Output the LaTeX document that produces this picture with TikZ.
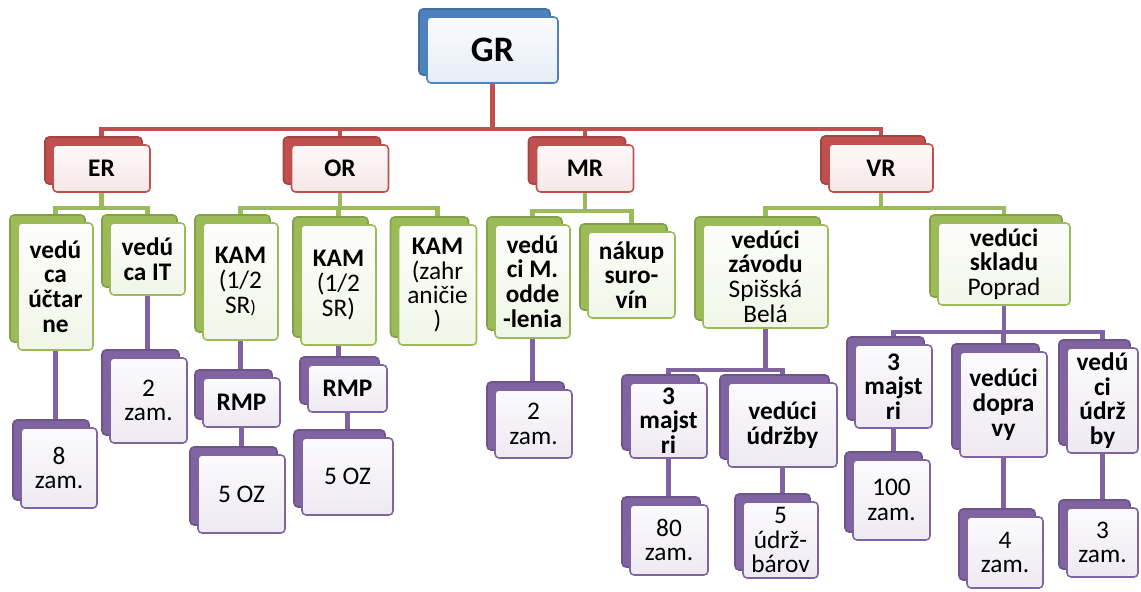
\documentclass[tikz,border=0pt]{standalone}
\usepackage{fontspec}
\setmainfont{Carlito}
\usetikzlibrary{shadows,backgrounds}

\definecolor{cblue}{HTML}{4F81BD}
\definecolor{cred}{HTML}{C0504D}
\definecolor{cgreen}{HTML}{9BBB59}
\definecolor{cviolet}{HTML}{8064A2}

\tikzset{
  card/.style={draw=#1, line width=1.1pt, rounded corners=0.1cm, inner sep=0pt, align=center,
    top color=#1!3!white, bottom color=#1!14!white,
    font=\fontsize{18}{17.6}\selectfont\bfseries,
    copy shadow={shadow xshift=-0.2cm, shadow yshift=0.2cm, draw=#1!85!black, fill=#1, line width=1.1pt}},
  num/.style={font=\fontsize{18}{17.6}\selectfont},
  sz/.style 2 args={minimum width=#1*0.025cm, minimum height=#2*0.025cm},
  link/.style={draw=#1, line width=3pt}
}

\begin{document}
\begin{tikzpicture}[x=0.025cm, y=-0.025cm]
  \useasboundingbox (0,0) rectangle (1141,591);

  % top
  \node[card=cblue, sz={131}{66}, font=\fontsize{25.5}{28}\selectfont\bfseries] (GR) at (492.5,50) {GR};

  % departments
  \node[card=cred, sz={97}{47}] (ER) at (101.5,168.5) {ER};
  \node[card=cred, sz={97}{47}] (OR) at (340,168.5) {OR};
  \node[card=cred, sz={97}{47}] (MR) at (585,168.5) {MR};
  \node[card=cred, sz={104}{48}] (VR) at (881,168) {VR};

  % heads
  \node[card=cgreen, sz={75}{127}] (uct) at (55.5,286.5) {vedú\\ca\\účtar\\ne};
  \node[card=cgreen, sz={75}{72}] (it) at (147.5,259) {vedú\\ca IT};
  \node[card=cgreen, sz={75}{117}] (kam1) at (240.5,281.5) {KAM\\\mdseries(1/2\\\mdseries SR{\fontsize{13}{13}\selectfont)}};
  \node[card=cgreen, sz={75}{120}] (kam2) at (338.5,285) {KAM\\\mdseries(1/2\\\mdseries SR)};
  \node[card=cgreen, sz={78}{120}] (kam3) at (437.5,285) {KAM\\\mdseries(zahr\\\mdseries aničie\\\mdseries)};
  \node[card=cgreen, sz={75}{113}] (vm) at (532.5,281.5) {vedú\\ci M.\\odde\\-lenia};
  \node[card=cgreen, sz={87}{86}] (nak) at (631.5,275) {nákup\\suro-\\vín};
  \node[card=cgreen, sz={125}{103}] (zav) at (765.5,276.5) {vedúci\\závodu\\\mdseries Spišská\\\mdseries Belá};
  \node[card=cgreen, sz={132}{82}] (skl) at (1004,264) {vedúci\\skladu\\\mdseries Poprad};

  % staff
  \node[card=cviolet, num, sz={76}{80}] (z8) at (59,468) {8\\zam.};
  \node[card=cviolet, num, sz={77}{85}] (z2a) at (148.5,400.5) {2\\zam.};
  \node[card=cviolet, sz={77}{49}] (rmp1) at (241.5,402.5) {RMP};
  \node[card=cviolet, num, sz={87}{78}] (oz1) at (241.5,494) {5 OZ};
  \node[card=cviolet, sz={79}{47}] (rmp2) at (347.5,388.5) {RMP};
  \node[card=cviolet, num, sz={91}{77}] (oz2) at (347.5,476.5) {5 OZ};
  \node[card=cviolet, num, sz={77}{68}] (z2b) at (533.5,424) {2\\zam.};
  \node[card=cviolet, sz={77}{75}] (maj1) at (668.5,420.5) {3\\majst\\ri};
  \node[card=cviolet, sz={109}{84}] (udr1) at (782.5,425) {vedúci\\údržby};
  \node[card=cviolet, num, sz={78}{70}] (z80) at (669,540) {80\\zam.};
  \node[card=cviolet, num, sz={75}{76}] (u5) at (780.5,540) {5\\údrž-\\bárov};
  \node[card=cviolet, sz={77}{83}] (maj2) at (893.5,386.5) {3\\majst\\ri};
  \node[card=cviolet, sz={87}{105}] (dop) at (1003.5,404.5) {vedúci\\dopra\\vy};
  \node[card=cviolet, sz={71}{105}] (udr2) at (1102.5,400.5) {vedú\\ci\\údrž\\by};
  \node[card=cviolet, num, sz={77}{80}] (z100) at (891.5,500) {100\\zam.};
  \node[card=cviolet, num, sz={76}{71}] (z4) at (1005,552.5) {4\\zam.};
  \node[card=cviolet, num, sz={71}{69}] (z3) at (1102.5,542.5) {3\\zam.};

  % bus levels
  \coordinate (rb) at (0,129);
  \coordinate (gb) at (0,208);
  \coordinate (mb) at (0,211);
  \coordinate (zb) at (0,370);
  \coordinate (sb) at (0,332);

  \begin{scope}[on background layer, transform canvas={xshift=-0.2cm}]
    \foreach \c in {ER,OR,MR,VR} \draw[link=cred] (GR) |- (rb -| \c) -- (\c);
    \foreach \c in {uct,it} \draw[link=cgreen] (ER) |- (gb -| \c) -- (\c);
    \foreach \c in {kam1,kam2,kam3} \draw[link=cgreen] (OR) |- (gb -| \c) -- (\c);
    \foreach \c in {vm,nak} \draw[link=cgreen] (MR) |- (mb -| \c) -- (\c);
    \foreach \c in {zav,skl} \draw[link=cgreen] (VR) |- (gb -| \c) -- (\c);
    \foreach \c in {maj1,udr1} \draw[link=cviolet] (zav) |- (zb -| \c) -- (\c);
    \foreach \c in {maj2,dop,udr2} \draw[link=cviolet] (skl) |- (sb -| \c) -- (\c);
    \draw[link=cviolet] (uct) |- (z8);
    \draw[link=cviolet] (it) |- (z2a);
    \draw[link=cviolet] (kam1) |- (rmp1);
    \draw[link=cviolet] (rmp1) |- (oz1);
    \draw[link=cviolet] (kam2) |- (rmp2);
    \draw[link=cviolet] (rmp2) |- (oz2);
    \draw[link=cviolet] (vm) |- (z2b);
    \draw[link=cviolet] (maj1) |- (z80);
    \draw[link=cviolet] (udr1) |- (u5);
    \draw[link=cviolet] (maj2) |- (z100);
    \draw[link=cviolet] (dop) |- (z4);
    \draw[link=cviolet] (udr2) |- (z3);
  \end{scope}
\end{tikzpicture}
\end{document}
